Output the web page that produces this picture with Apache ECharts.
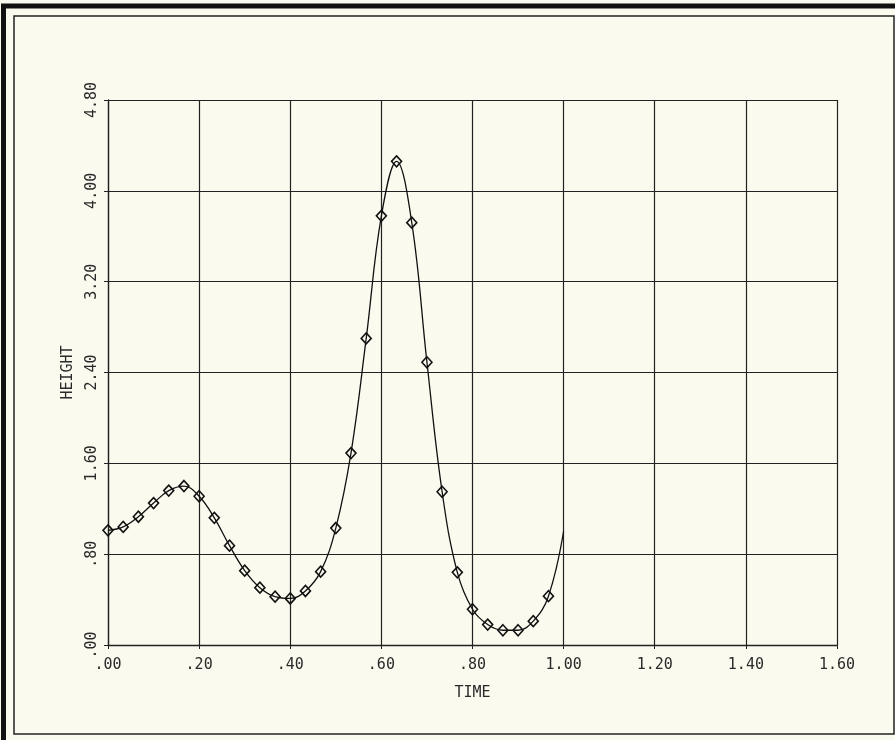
<!DOCTYPE html>
<html>
<head>
<meta charset="utf-8">
<script src="https://cdn.jsdelivr.net/npm/echarts@6/dist/echarts.min.js"></script>
<style>
  html, body { margin: 0; padding: 0; background: #fbfaee; }
  #chart_example { width: 895px; height: 740px; }
</style>
</head>
<body>
<div id="chart_example"></div>
<script>
// sample times (one marker each) and read-off heights
var time = [0, 0.0333, 0.0667, 0.1, 0.1333, 0.1667, 0.2, 0.2333, 0.2667, 0.3,
  0.3333, 0.3667, 0.4, 0.4333, 0.4667, 0.5, 0.5333, 0.5667, 0.6, 0.6333,
  0.6667, 0.7, 0.7333, 0.7667, 0.8, 0.8333, 0.8667, 0.9, 0.9333, 0.9667];
var height = [1.01, 1.04, 1.13, 1.25, 1.36, 1.40, 1.31, 1.12, 0.875, 0.655,
  0.505, 0.426, 0.41, 0.476, 0.646, 1.03, 1.69, 2.70, 3.78, 4.26,
  3.72, 2.49, 1.35, 0.64, 0.315, 0.18, 0.13, 0.13, 0.21, 0.43];
// curve runs on to t = 1.00 without a marker
var endTime = 1.0;
var endHeight = 1.0;

var xTicks = [0, 1.6, 0.2];   // min, max, step
var yTicks = [0, 4.8, 0.8];

function fmt(v) {
  return v.toFixed(2).replace(/^0/, "");
}

var pts = [];
for (var i = 0; i < time.length; i++) {
  pts.push([time[i], height[i]]);
}
pts.push({ value: [endTime, endHeight], symbol: "none" });

var font = "DejaVu Sans Mono";
var ink = "#2a2a2a";

var myChart = echarts.init(document.getElementById("chart_example"));
var option = {
  backgroundColor: "#fbfaee",
  animation: false,
  grid: { left: 108, right: 58, top: 100, bottom: 95 },
  graphic: [
    {
      type: "rect",
      shape: { x: 3.5, y: 6, width: 900, height: 745 },
      style: { fill: "none", stroke: "#111", lineWidth: 5 },
      silent: true
    },
    {
      type: "rect",
      shape: { x: 14, y: 16, width: 880, height: 718 },
      style: { fill: "none", stroke: "#222", lineWidth: 1.5 },
      silent: true
    }
  ],
  xAxis: {
    type: "value",
    min: xTicks[0],
    max: xTicks[1],
    interval: xTicks[2],
    name: "TIME",
    nameLocation: "middle",
    nameGap: 41,
    nameTextStyle: { fontFamily: font, fontSize: 15, color: ink },
    axisLine: { show: true, lineStyle: { color: "#222", width: 1.3 } },
    axisTick: { show: true, length: 4, lineStyle: { color: "#222" } },
    axisLabel: {
      margin: 13,
      fontFamily: font,
      fontSize: 15,
      color: ink,
      formatter: fmt
    },
    splitLine: { show: true, lineStyle: { color: "#222", width: 1.2 } }
  },
  yAxis: {
    type: "value",
    min: yTicks[0],
    max: yTicks[1],
    interval: yTicks[2],
    name: "HEIGHT",
    nameLocation: "middle",
    nameGap: 32,
    nameRotate: 90,
    nameTextStyle: { fontFamily: font, fontSize: 15, color: ink },
    axisLine: { show: true, lineStyle: { color: "#222", width: 1.3 } },
    axisTick: { show: true, length: 4, lineStyle: { color: "#222" } },
    axisLabel: {
      margin: 8,
      rotate: 90,
      fontFamily: font,
      fontSize: 15,
      color: ink,
      formatter: fmt
    },
    splitLine: { show: true, lineStyle: { color: "#222", width: 1.2 } }
  },
  series: [
    {
      name: "HEIGHT",
      type: "line",
      smooth: 0.4,
      data: pts,
      symbol: "diamond",
      symbolSize: [10, 11],
      showAllSymbol: true,
      lineStyle: { color: "#111", width: 1.3 },
      itemStyle: { color: "rgba(0,0,0,0)", borderColor: "#111", borderWidth: 1.6 }
    }
  ]
};
myChart.setOption(option);
</script>
</body>
</html>
